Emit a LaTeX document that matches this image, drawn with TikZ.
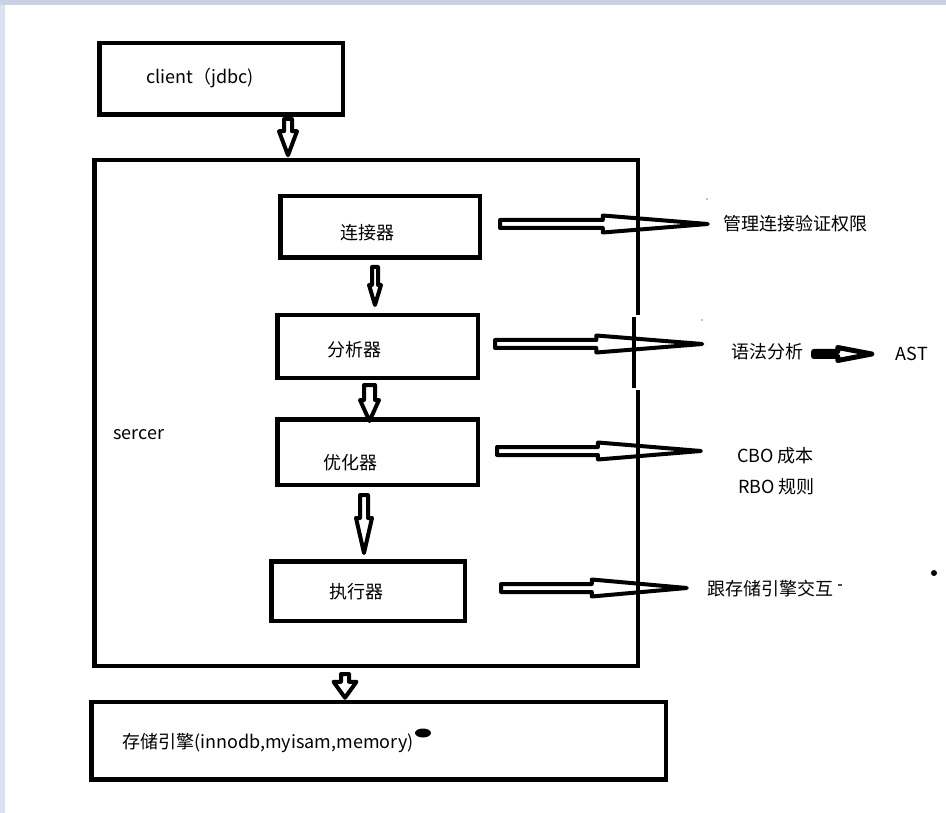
\documentclass[tikz,border=0pt]{standalone}
\usepackage{fontspec}
\setmainfont{Noto Sans CJK SC}
\usetikzlibrary{positioning,calc}
\newcommand{\lblfont}{\fontsize{18}{21}\selectfont}
\definecolor{stripgray}{RGB}{200,210,228}
\definecolor{stripside}{RGB}{218,226,240}

\begin{document}
\begin{tikzpicture}[x=1pt, y=1pt,
    box/.style n args={2}{draw, line width=4.5pt, inner sep=0pt, minimum width=#1, minimum height=#2},
    lbl/.style={inner sep=0pt, font=\lblfont},
    wall/.style={line width=4.5pt},
    fat/.style n args={3}{draw, line width=4pt, fill=white, line join=round,
      to path={let \p1=($(\tikztotarget)-(\tikztostart)$), \n1={atan2(\y1,\x1)}, \n2={veclen(\x1,\y1)-#3} in
        ($(\tikztostart)+({\n1+90}:#1)$) -- ($(\tikztostart)+(\n1:\n2)+({\n1+90}:#1)$)
        -- ($(\tikztostart)+(\n1:\n2)+({\n1+90}:#2)$) -- (\tikztotarget)
        -- ($(\tikztostart)+(\n1:\n2)+({\n1-90}:#2)$) -- ($(\tikztostart)+(\n1:\n2)+({\n1-90}:#1)$)
        -- ($(\tikztostart)+({\n1-90}:#1)$) -- cycle}}
  ]
  \useasboundingbox (0,0) rectangle (946,-813);
  \fill[stripgray] (0,0) rectangle (946,-5);
  \fill[stripside] (0,-5) rectangle (5,-813);

  % boxes
  \node[box={243.5pt}{71.5pt}] (client) at (221,-79) {};
  \node[outer sep=0pt, minimum width=543.5pt, minimum height=505.5pt] (srv) at (366,-413) {};
  \node[box={199.5pt}{61.5pt}] (conn) at (380,-227) {};
  \node[box={200.5pt}{62.5pt}, below=53pt of conn, xshift=-2.5pt] (ana) {};
  \node[box={200.5pt}{65.5pt}, below=37pt of ana] (opt) {};
  \node[box={193.5pt}{59.5pt}, below=72pt of opt, xshift=-9.5pt] (exe) {};
  \node[box={574.5pt}{77.5pt}, below=34pt of srv, xshift=12.5pt] (store) {};

  % texts
  \node[lbl] (clienttxt) at ([xshift=-21pt,yshift=1pt]client.center) {client（jdbc)};
  \node[lbl] (srvtxt) at (139,-435) {sercer};
  \node[lbl] (conntxt) at ([xshift=-12.5pt,yshift=-6pt]conn.center) {连接器};
  \node[lbl] (anatxt) at ([xshift=-23.5pt,yshift=-3.5pt]ana.center) {分析器};
  \node[lbl] (opttxt) at ([xshift=-27.5pt,yshift=-11pt]opt.center) {优化器};
  \node[lbl] (exetxt) at ([xshift=-11.5pt,yshift=-1pt]exe.center) {执行器};
  \node[lbl, anchor=west] (storetxt) at (122,-743) {存储引擎(innodb,myisam,memory)};

  \node[lbl] (mgmt) at (795,-224) {管理连接验证权限};
  \node[lbl] (syn) at (767.5,-352) {语法分析};
  \node[lbl] (ast) at (912,-354) {AST};
  \node[lbl] (cbo) at (775.5,-456) {CBO 成本};
  \node[lbl] (rbo) at (776.5,-487) {RBO 规则};
  \node[lbl] (eng) at (770,-589) {跟存储引擎交互};

  % down arrows
  \draw[fat={4}{9}{24}] ([xshift=67pt,yshift=-2pt]client.south) to ([xshift=-78pt,yshift=5pt]srv.north);
  \draw[fat={3}{6}{20}] ([xshift=-5pt,yshift=-7pt]conn.south) to ([xshift=-2.5pt,yshift=8pt]ana.north);
  \draw[fat={5.5}{9.5}{21}] ([xshift=-8pt,yshift=-5pt]ana.south) to ([xshift=-8pt,yshift=-4pt]opt.north);
  \draw[fat={4}{8}{35}] ([xshift=-13.5pt,yshift=-8pt]opt.south) to ([xshift=-4pt,yshift=6pt]exe.north);
  \draw[fat={4}{11.5}{16}] ([xshift=-21pt,yshift=-8.25pt]srv.south) to ([xshift=-33.5pt,yshift=2pt]store.north);

  % side arrows
  \draw[fat={4}{8.5}{105}] ([xshift=18pt,yshift=3pt]conn.east) to ([xshift=-15pt]mgmt.west);
  \draw[fat={4}{8.5}{106}] ([xshift=15pt,yshift=2.5pt]ana.east) to ([xshift=-29pt,yshift=8pt]syn.west);
  \draw[fat={4}{8.5}{103}] ([xshift=17pt,yshift=1pt]opt.east) to ([xshift=-36pt,yshift=5pt]cbo.west);
  \draw[fat={4}{8.5}{95}] ([xshift=34pt,yshift=3pt]exe.east) to ([xshift=-20pt,yshift=1pt]eng.west);
  \draw[fat={2.5}{6.5}{34}, line width=5pt] ([xshift=10pt,yshift=-2pt]syn.east) to ([xshift=-24pt]ast.west);

  % server border, right side broken
  \draw[wall] (srv.east |- 0,-315) -- (srv.north east) -- (srv.north west)
    -- (srv.south west) -- (srv.south east) -- (srv.east |- 0,-390);
  \draw[wall] ([xshift=-4pt]srv.east |- 0,-317) -- ([xshift=-4pt]srv.east |- 0,-388);

  % stray marks
  \fill (423,-733) ellipse [x radius=8, y radius=4.5];
  \fill (934,-573) circle [radius=3];
  \fill[gray] (707,-199) circle [radius=0.8];
  \fill[gray] (702,-320) circle [radius=0.8];
  \draw[line width=1.2pt, black!70] (838,-585) -- (842,-585);
\end{tikzpicture}
\end{document}
